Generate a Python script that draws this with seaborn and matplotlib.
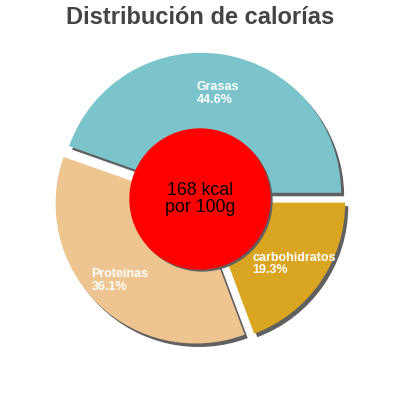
import matplotlib
matplotlib.use("Agg")
import matplotlib.pyplot as plt
import seaborn as sns

categories = ["Grasas", "Proteínas", "carbohidratos"]
values = [44.6, 36.1, 19.3]
colors = ["#7BC4CC", "#EEC591", "#DAA520"]
label_dist = [0.72, 0.77, 0.77]
title = "Distribución de calorías"
center_label = "168 kcal\npor 100g"

sns.set_theme(style="white")
plt.rcParams["font.family"] = ["Liberation Sans", "DejaVu Sans"]

fig = plt.figure(figsize=(4, 4), dpi=100)
ax = fig.add_axes([0, 0, 1, 1])

R = 1.0
explode = [0.045] * len(values)
shadow_off = (0.022, -0.025)
shadow_col = "#606060"

# shadow pie
ax.pie(values, explode=explode, startangle=0, counterclock=True, radius=R,
       colors=[shadow_col] * len(values), center=shadow_off,
       wedgeprops=dict(linewidth=0))

labels_iter = iter(categories)
wedges, texts, autotexts = ax.pie(
    values, explode=explode, startangle=0, counterclock=True, radius=R,
    colors=colors, wedgeprops=dict(linewidth=0),
    autopct=lambda p: f"{next(labels_iter)}\n{p:.1f}%", pctdistance=0.77,
    textprops=dict(color="white", fontsize=9, fontweight="bold"))
for t, d in zip(autotexts, label_dist):
    x, y = t.get_position()
    t.set_position((x * d / 0.77, y * d / 0.77))
    t.set_multialignment("left")
    t.set_linespacing(1.1)

# center circle with shadow
ax.pie([1], radius=0.505, colors=[shadow_col], center=(0.014, -0.014),
       wedgeprops=dict(linewidth=0))
ax.pie([1], radius=0.505, colors=["#FF0000"], wedgeprops=dict(linewidth=0))
ax.text(0, 0.0, center_label, ha="center", va="center", fontsize=12.8,
        color="black", linespacing=1.05)

ax.set_xlim(-200 / 140, 200 / 140)
ax.set_ylim(-201 / 140, 199 / 140)
ax.set_aspect("equal")
ax.axis("off")

fig.text(0.5, 1 - 24 / 400, title, ha="center", va="baseline",
         fontsize=17, fontweight="bold", color="#444444")

fig.savefig("out.png", dpi=100)
